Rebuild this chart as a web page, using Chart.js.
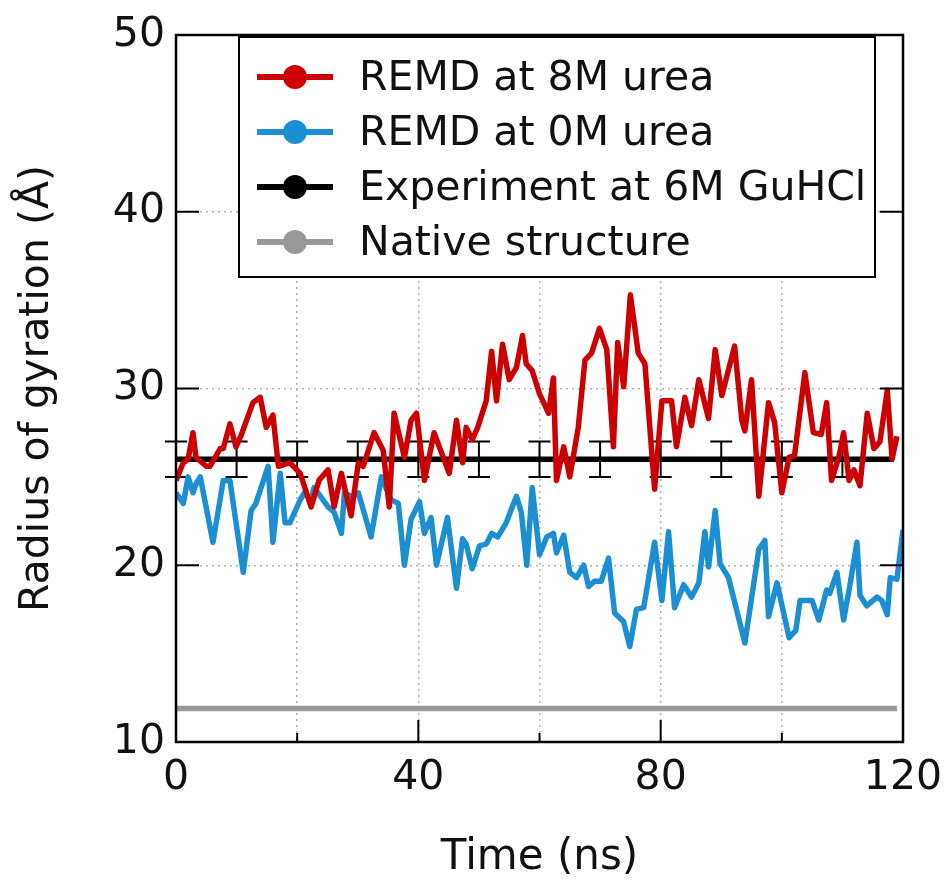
<!DOCTYPE html>
<html lang="en">
  <head>
    <meta charset="UTF-8" />
    <title>Radius of gyration</title>
    <script src="https://cdn.jsdelivr.net/npm/chart.js@4.4.1/dist/chart.umd.min.js"></script>
    <style>
      body {
        margin: 0;
        background: #fff;
      }
    </style>
  </head>
  <body>
    <canvas id="rgChart" width="949" height="886"></canvas>

    <script>
      // data (time in ns, Rg in angstrom)
      const redTime = [0, 1.2, 2, 2.8, 3.3, 5, 5.6, 7.3, 7.8, 8.9, 9.9, 10.7, 12.7, 13.9, 14.9, 16, 16.9, 18.8, 20.5, 22.3, 23.6, 25.1, 26.1, 27.3, 28.9, 30.1, 30.9, 32.7, 34.2, 35.2, 36, 37.7, 38.8, 39.7, 41, 42.6, 45.1, 46.3, 47.3, 47.9, 48.9, 49.8, 51.2, 52.1, 52.9, 53.9, 55, 56.2, 57.2, 57.8, 58.8, 60, 61.5, 62.3, 62.8, 64, 65, 66.4, 67.5, 68.6, 69.9, 71.1, 72.2, 72.9, 73.9, 75, 76.3, 77.4, 79, 80.2, 81.8, 82.6, 84, 85.1, 86.3, 87.9, 89, 90.1, 92.2, 93.4, 93.9, 95, 96.2, 97.8, 98.8, 100, 101.2, 102.1, 103.8, 105.2, 106.5, 107.4, 108.2, 109.4, 110.2, 111.1, 111.9, 112.9, 114.1, 115.2, 116.2, 117.4, 118.2, 119];
      const redRg = [24.8, 25.8, 26.0, 27.5, 26.1, 25.6, 25.6, 26.6, 26.6, 28.0, 26.7, 27.3, 29.2, 29.5, 27.8, 28.5, 25.6, 25.8, 25.2, 23.3, 24.8, 25.4, 23.3, 25.2, 22.8, 25.8, 25.6, 27.5, 26.5, 23.3, 28.6, 26.1, 28.2, 28.6, 24.8, 27.5, 25.2, 28.2, 25.8, 27.8, 27.1, 27.8, 29.3, 32.1, 29.3, 32.5, 30.5, 31.2, 33.0, 31.4, 31.0, 29.7, 28.6, 30.6, 24.8, 26.7, 25.0, 27.8, 31.6, 32.0, 33.4, 32.2, 26.7, 32.6, 30.1, 35.3, 32.0, 31.4, 24.3, 29.3, 29.3, 26.7, 29.5, 27.9, 30.5, 28.3, 32.2, 29.6, 32.4, 28.2, 27.6, 30.5, 23.9, 29.2, 28.1, 24.1, 26.1, 26.2, 30.9, 27.5, 27.4, 29.2, 24.8, 26.1, 27.5, 24.8, 25.4, 24.5, 28.6, 26.6, 27.0, 29.9, 26.0, 27.3];

      const blueTime = [0, 1.2, 2, 2.8, 3.3, 4, 6.1, 7.8, 8.9, 11.1, 12.4, 13.2, 15.2, 16, 17.2, 18, 18.8, 20.5, 21.2, 22.3, 22.8, 25.1, 26.1, 27.3, 27.8, 28.9, 30.1, 32.2, 33.9, 35.5, 36.7, 37.7, 38.8, 40.2, 41, 42.1, 43, 44.8, 46.3, 47.3, 47.9, 48.9, 50.1, 51.2, 52.1, 53.1, 54.5, 56.2, 57, 57.9, 58.8, 60, 61.2, 62.3, 62.8, 64, 65, 66.1, 67.3, 68.1, 69.1, 70.2, 71.4, 72.4, 73.9, 74.9, 76, 77.2, 79, 80.2, 81.3, 82.3, 83.8, 85.1, 86.3, 87.3, 87.9, 89, 89.8, 91.2, 93.9, 96.2, 97.2, 97.8, 99.2, 101.2, 102.3, 103, 105, 106.1, 107.4, 107.9, 109.1, 110.2, 111.2, 112.4, 112.9, 114, 115.7, 116.5, 117.4, 117.9, 119, 120];
      const blueRg = [24.1, 23.5, 25.0, 24.1, 24.6, 25.0, 21.3, 24.8, 24.8, 19.6, 23.1, 23.5, 25.6, 21.3, 25.2, 22.4, 22.4, 23.7, 24.1, 23.7, 24.4, 23.3, 23.0, 21.8, 24.1, 23.9, 24.1, 21.6, 25.0, 23.7, 23.5, 20.0, 22.6, 23.6, 21.8, 22.7, 20.0, 22.7, 18.7, 21.5, 21.2, 19.8, 21.1, 21.2, 21.8, 21.6, 22.4, 23.9, 23.0, 20.0, 24.4, 20.6, 21.6, 21.8, 20.7, 21.7, 19.6, 19.3, 20.0, 18.8, 19.1, 19.1, 20.4, 17.3, 16.8, 15.4, 17.5, 17.6, 21.3, 18.0, 21.9, 17.6, 18.9, 18.2, 19.0, 21.9, 19.9, 23.1, 20.1, 19.3, 15.6, 20.9, 21.4, 17.1, 19.0, 15.9, 16.3, 18.0, 18.0, 16.9, 18.6, 18.4, 19.6, 16.9, 18.8, 21.3, 18.3, 17.7, 18.2, 18.0, 17.2, 19.3, 19.2, 22.0];

      // experiment (6M GuHCl): mean with error bars every 10 ns
      const expSpan = [0, 118.5];
      const expMean = 26;
      const errTime = [0, 10, 20, 30, 40, 50, 60, 70, 80, 90, 100, 110];
      const expErr = 1;

      // native structure
      const nativeSpan = [0, 119];
      const nativeRg = 11.9;

      const seriesLabels = ["REMD at 8M urea", "REMD at 0M urea", "Experiment at 6M GuHCl", "Native structure"];
      const xLabelTicks = [0, 40, 80, 120];

      const toPoints = (xs, ys) => xs.map((x, i) => ({ x: x, y: ys[i] }));
      const flat = (xs, v) => xs.map((x) => ({ x: x, y: v }));

      const FONT = "'DejaVu Sans', sans-serif";
      Chart.defaults.font.family = FONT;
      Chart.defaults.color = "#111";

      const figurePlugin = {
        id: "figure",
        beforeDatasetsDraw(chart) {
          // error bars under the lines
          const ctx = chart.ctx;
          const x = chart.scales.x;
          const y = chart.scales.y;
          ctx.save();
          ctx.strokeStyle = "#000";
          ctx.lineWidth = 2;
          errTime.forEach((t) => {
            const px = x.getPixelForValue(t);
            const top = y.getPixelForValue(expMean + expErr);
            const bot = y.getPixelForValue(expMean - expErr);
            ctx.beginPath();
            ctx.moveTo(px, top);
            ctx.lineTo(px, bot);
            ctx.moveTo(px - 11, top);
            ctx.lineTo(px + 11, top);
            ctx.moveTo(px - 11, bot);
            ctx.lineTo(px + 11, bot);
            ctx.stroke();
          });
          ctx.restore();
        },
        afterDatasetsDraw(chart) {
          // frame and inward ticks
          const ctx = chart.ctx;
          const a = chart.chartArea;
          const x = chart.scales.x;
          const y = chart.scales.y;
          ctx.save();
          ctx.strokeStyle = "#000";
          ctx.lineWidth = 2.5;
          ctx.strokeRect(a.left, a.top, a.right - a.left, a.bottom - a.top);
          ctx.lineWidth = 2;
          ctx.beginPath();
          [20, 30, 40].forEach((v) => {
            const py = y.getPixelForValue(v);
            ctx.moveTo(a.left, py);
            ctx.lineTo(a.left + 23, py);
            ctx.moveTo(a.right, py);
            ctx.lineTo(a.right - 23, py);
          });
          [20, 40, 60, 80, 100].forEach((v) => {
            const px = x.getPixelForValue(v);
            const len = v % 40 === 0 ? 22 : 9;
            ctx.moveTo(px, a.bottom);
            ctx.lineTo(px, a.bottom - len);
          });
          ctx.stroke();
          ctx.restore();
        },
        afterDraw(chart) {
          // legend box
          const ctx = chart.ctx;
          const box = { l: 239, t: 37, r: 875, b: 277 };
          ctx.save();
          ctx.fillStyle = "#fff";
          ctx.fillRect(box.l, box.t, box.r - box.l, box.b - box.t);
          ctx.strokeStyle = "#000";
          ctx.lineWidth = 2;
          ctx.strokeRect(box.l, box.t, box.r - box.l, box.b - box.t);
          ctx.font = "41px " + FONT;
          ctx.textBaseline = "middle";
          chart.data.datasets.forEach((ds, i) => {
            const cy = 77 + i * 55;
            ctx.strokeStyle = ds.borderColor;
            ctx.fillStyle = ds.borderColor;
            ctx.lineWidth = 6;
            ctx.beginPath();
            ctx.moveTo(257, cy);
            ctx.lineTo(333, cy);
            ctx.stroke();
            ctx.beginPath();
            ctx.arc(295, cy, 12, 0, Math.PI * 2);
            ctx.fill();
            ctx.fillStyle = "#111";
            ctx.fillText(ds.label, 359, cy + 2);
          });
          ctx.restore();
        },
      };

      new Chart(document.getElementById("rgChart"), {
        type: "line",
        data: {
          datasets: [
            {
              label: seriesLabels[0],
              data: toPoints(redTime, redRg),
              borderColor: "#cc0000",
              borderWidth: 5.5,
              order: 1,
            },
            {
              label: seriesLabels[1],
              data: toPoints(blueTime, blueRg),
              borderColor: "#1b8fd2",
              borderWidth: 5.5,
              order: 2,
            },
            {
              label: seriesLabels[2],
              data: flat(expSpan, expMean),
              borderColor: "#000000",
              borderWidth: 5.5,
              order: 3,
            },
            {
              label: seriesLabels[3],
              data: flat(nativeSpan, nativeRg),
              borderColor: "#999999",
              borderWidth: 5.5,
              order: 4,
            },
          ],
        },
        options: {
          responsive: false,
          animation: false,
          devicePixelRatio: 1,
          layout: { padding: { top: 35, right: 46, left: 0, bottom: 0 } },
          elements: {
            point: { radius: 0 },
            line: { tension: 0, borderJoinStyle: "round", borderCapStyle: "butt" },
          },
          plugins: {
            legend: { display: false },
            tooltip: { enabled: false },
          },
          scales: {
            x: {
              type: "linear",
              min: 0,
              max: 120,
              afterFit: (s) => {
                s.height = 144;
                s.paddingLeft = 0;
                s.paddingRight = 0;
              },
              ticks: {
                stepSize: 20,
                padding: 12,
                maxRotation: 0,
                font: { size: 41 },
                callback: (v) => (xLabelTicks.includes(v) ? String(v) : ""),
              },
              grid: {
                drawTicks: false,
                lineWidth: 1.5,
                color: (c) => (c.tick && c.tick.value > 0 && c.tick.value < 120 ? "#b0b0b0" : "rgba(0,0,0,0)"),
              },
              border: { display: false, dash: [2, 4] },
              title: {
                display: true,
                text: "Time (ns)",
                font: { size: 42, lineHeight: 1 },
                padding: { top: 0, bottom: 7 },
              },
            },
            y: {
              min: 10,
              max: 50,
              afterFit: (s) => {
                s.width = 176;
                s.paddingTop = 0;
                s.paddingBottom = 0;
              },
              ticks: {
                stepSize: 10,
                padding: 11,
                font: { size: 41 },
              },
              grid: {
                drawTicks: false,
                lineWidth: 1.5,
                color: (c) => (c.tick && c.tick.value > 10 && c.tick.value < 50 ? "#b0b0b0" : "rgba(0,0,0,0)"),
              },
              border: { display: false, dash: [2, 4] },
              title: {
                display: true,
                text: "Radius of gyration (Å)",
                font: { size: 41, lineHeight: 1 },
                padding: { top: 17, bottom: 0 },
              },
            },
          },
        },
        plugins: [figurePlugin],
      });
    </script>
  </body>
</html>
